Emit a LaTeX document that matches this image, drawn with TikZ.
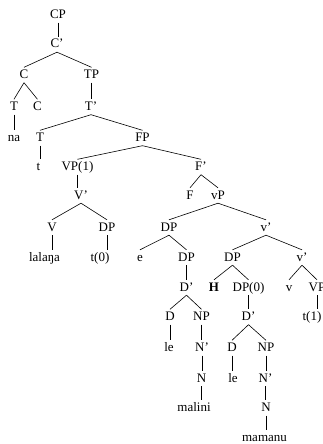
\documentclass[tikz,border=0pt]{standalone}
\usepackage{fontspec}
\setmainfont{Liberation Serif}
\usepackage{tikz}
\tikzstyle{cat}=[inner sep=2pt, text height=9pt, text depth=2pt, anchor=base, font=\fontsize{13}{15}\selectfont]
\tikzstyle{branch}=[draw, line width=0.6pt]
\def\bedge#1#2{\draw[branch] (#1.south) -- (#2.north);}
\def\uedge#1#2{\draw[branch] (#1.south) -- (#1.south |- #2.north);}

\begin{document}
\begin{tikzpicture}[x=1pt, y=-1pt]
		\useasboundingbox (0,0) rectangle (323,444);
		\clip (0,0) rectangle (323,444);
		\node[cat] (CP) at (58,18.5) {CP};
		\node[cat] (Cb) at (57,48) {C'};
		\node[cat] (C) at (24,78.5) {C};
		\node[cat] (TP) at (91.5,78.5) {TP};
		\node[cat] (T) at (14,110.5) {T};
		\node[cat] (C2) at (37.5,110.5) {C};
		\node[cat] (Tb) at (91,110.5) {T'};
		\node[cat] (na) at (14,141.5) {na};
		\node[cat] (T2) at (40,141.5) {T};
		\node[cat] (FP) at (142.5,141.5) {FP};
		\node[cat] (t) at (38.5,170.5) {t};
		\node[cat] (VP) at (77.5,170.5) {VP(1)};
		\node[cat] (Fb) at (201,170.5) {F'};
		\node[cat] (Vb) at (81,199) {V'};
		\node[cat] (F) at (190,199) {F};
		\node[cat] (vP) at (218,199) {vP};
		\node[cat] (V) at (52,231) {V};
		\node[cat] (DPa) at (107,231) {DP};
		\node[cat] (DPb) at (169,231) {DP};
		\node[cat] (vb) at (266,231) {v'};
		\node[cat] (lalanga) at (44.5,261) {lalaŋa};
		\node[cat] (tzero) at (100,261) {t(0)};
		\node[cat] (e) at (140,261) {e};
		\node[cat] (DPc) at (186.5,261) {DP};
		\node[cat] (DPd) at (232.5,261) {DP};
		\node[cat] (vb2) at (302,261) {v'};
		\node[cat] (Db) at (186.5,291) {D'};
		\node[cat] (H) at (214,291) {\textbf{H}};
		\node[cat] (DPzero) at (248.5,291) {DP(0)};
		\node[cat] (v) at (289,291) {v};
		\node[cat] (VP2) at (317,291) {VP};
		\node[cat] (D) at (170,320.5) {D};
		\node[cat] (NP) at (201.5,320.5) {NP};
		\node[cat] (Db2) at (248.5,320.5) {D'};
		\node[cat] (tone) at (312,320.5) {t(1)};
		\node[cat] (le) at (169,351.5) {le};
		\node[cat] (Nb) at (202,351.5) {N'};
		\node[cat] (D2) at (232,351.5) {D};
		\node[cat] (NP2) at (266,351.5) {NP};
		\node[cat] (N) at (201.5,382) {N};
		\node[cat] (le2) at (233,382) {le};
		\node[cat] (Nb2) at (265.5,382) {N'};
		\node[cat] (malini) at (194,411.5) {malini};
		\node[cat] (N2) at (266,411.5) {N};
		\node[cat] (mamanu) at (264.5,441.5) {mamanu};
		% branches
		\uedge{CP}{Cb} \bedge{Cb}{C} \bedge{Cb}{TP}
		\bedge{C}{T} \bedge{C}{C2} \uedge{TP}{Tb}
		\uedge{T}{na} \bedge{Tb}{T2} \bedge{Tb}{FP}
		\uedge{T2}{t} \bedge{FP}{VP} \bedge{FP}{Fb}
		\uedge{VP}{Vb} \bedge{Fb}{F} \bedge{Fb}{vP}
		\bedge{Vb}{V} \bedge{Vb}{DPa} \bedge{vP}{DPb} \bedge{vP}{vb}
		\uedge{V}{lalanga} \uedge{DPa}{tzero} \bedge{DPb}{e} \bedge{DPb}{DPc}
		\bedge{vb}{DPd} \bedge{vb}{vb2}
		\uedge{DPc}{Db} \bedge{DPd}{H} \bedge{DPd}{DPzero} \bedge{vb2}{v} \bedge{vb2}{VP2}
		\bedge{Db}{D} \bedge{Db}{NP} \uedge{DPzero}{Db2} \uedge{VP2}{tone}
		\uedge{D}{le} \uedge{NP}{Nb} \bedge{Db2}{D2} \bedge{Db2}{NP2}
		\uedge{Nb}{N} \uedge{D2}{le2} \uedge{NP2}{Nb2}
		\uedge{N}{malini} \uedge{Nb2}{N2}
		\uedge{N2}{mamanu}
	\end{tikzpicture}
\end{document}
